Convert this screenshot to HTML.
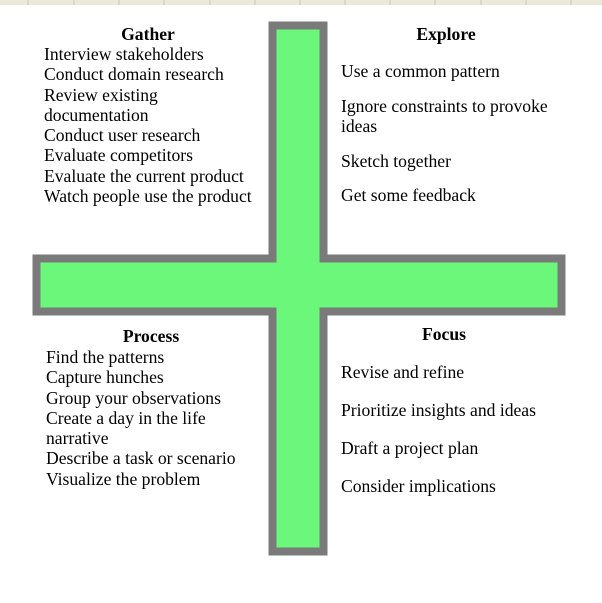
<!DOCTYPE html>
<html><head><style>
body{margin:0;width:602px;height:603px;background:#fff;position:relative;overflow:hidden;font-family:"Liberation Serif",serif;font-size:17.6px;color:#000}
.t{position:absolute;white-space:nowrap;line-height:20.3px}
.b{font-weight:bold;transform:translateX(-50%)}
</style></head><body>
<div style="position:absolute;left:0;top:0;width:602px;height:5px;background:#ece9d8"></div>
<svg width="602" height="603" style="position:absolute;left:0;top:0">
<g stroke="#c9c6b6" stroke-width="1">
<line x1="28" y1="0" x2="28" y2="5"/><line x1="74" y1="0" x2="74" y2="5"/><line x1="119" y1="0" x2="119" y2="5"/><line x1="164" y1="0" x2="164" y2="5"/><line x1="210" y1="0" x2="210" y2="5"/><line x1="255" y1="0" x2="255" y2="5"/><line x1="300" y1="0" x2="300" y2="5"/><line x1="345" y1="0" x2="345" y2="5"/><line x1="390" y1="0" x2="390" y2="5"/><line x1="435" y1="0" x2="435" y2="5"/><line x1="481" y1="0" x2="481" y2="5"/><line x1="526" y1="0" x2="526" y2="5"/><line x1="571" y1="0" x2="571" y2="5"/>
</g>
<path d="M272.5 25.5 H323.5 V258.5 H561.5 V311.5 H323.5 V551.5 H272.5 V311.5 H36.5 V258.5 H272.5 Z" fill="#6bf87a" stroke="#7a7a7a" stroke-width="8" stroke-linejoin="miter"/>
</svg>
<div class="t b" style="left:148px;top:24px">Gather</div>
<div class="t" style="left:44px;top:44px">Interview stakeholders<br>Conduct domain research<br>Review existing<br>documentation<br>Conduct user research<br>Evaluate competitors<br>Evaluate the current product<br>Watch people use the product</div>
<div class="t b" style="left:446px;top:24px">Explore</div>
<div class="t" style="left:341px;top:61px">Use a common pattern</div>
<div class="t" style="left:341px;top:96px">Ignore constraints to provoke<br>ideas</div>
<div class="t" style="left:341px;top:151px">Sketch together</div>
<div class="t" style="left:341px;top:185px">Get some feedback</div>
<div class="t b" style="left:151px;top:326px">Process</div>
<div class="t" style="left:46px;top:347px">Find the patterns<br>Capture hunches<br>Group your observations<br>Create a day in the life<br>narrative<br>Describe a task or scenario<br>Visualize the problem</div>
<div class="t b" style="left:444px;top:324px">Focus</div>
<div class="t" style="left:341px;top:362px">Revise and refine</div>
<div class="t" style="left:341px;top:400px">Prioritize insights and ideas</div>
<div class="t" style="left:341px;top:438px">Draft a project plan</div>
<div class="t" style="left:341px;top:476px">Consider implications</div>
</body></html>
